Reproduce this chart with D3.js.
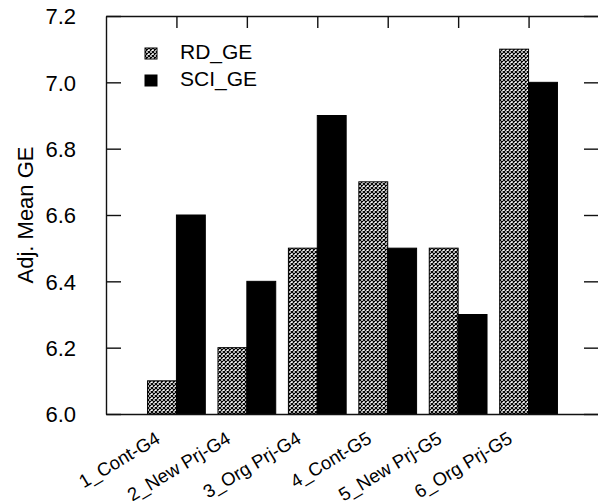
<!DOCTYPE html>
<html>
<head>
<meta charset="utf-8">
<script src="https://cdn.jsdelivr.net/npm/d3@7"></script>
<style>
  body { margin: 0; background: #fff; }
  text { font-family: "Liberation Sans", Arial, sans-serif; fill: #000; }
</style>
</head>
<body>
<script>
const categories = ['1_Cont-G4', '2_New Prj-G4', '3_Org Prj-G4', '4_Cont-G5', '5_New Prj-G5', '6_Org Prj-G5'];
const seriesNames = ['RD_GE', 'SCI_GE'];
const rdValues = [6.1, 6.2, 6.5, 6.7, 6.5, 7.1];
const sciValues = [6.6, 6.4, 6.9, 6.5, 6.3, 7.0];
const yTicks = [6.0, 6.2, 6.4, 6.6, 6.8, 7.0, 7.2];

function drawViz() {
  const W = 598, H = 501;
  const margin = {top: 16, bottom: 87, left: 106, right: -1};

  const svg = d3.select('body').append('svg')
    .attr('width', W)
    .attr('height', H);

  // hatch for the RD series
  const defs = svg.append('defs');
  const pat = defs.append('pattern')
    .attr('id', 'hatch')
    .attr('patternUnits', 'userSpaceOnUse')
    .attr('width', 4)
    .attr('height', 4);
  pat.append('rect').attr('width', 4).attr('height', 4).attr('fill', '#fff');
  pat.append('path')
    .attr('d', 'M0,0 L4,4 M4,0 L0,4')
    .attr('stroke', '#000')
    .attr('stroke-width', 1.2);

  const x = d3.scaleLinear().domain([0, 7]).range([margin.left, W - margin.right]);
  const y = d3.scaleLinear().domain([6.0, 7.2]).range([H - margin.bottom, margin.top]);
  const half = x(0.41) - x(0);
  const sub = d3.scaleBand().domain(seriesNames).range([-half, half]).padding(0);

  const data = categories.map((c, i) => ({cat: c, pos: i + 1, vals: [rdValues[i], sciValues[i]]}));

  // bars
  const g = svg.selectAll('g.grp')
    .data(data)
    .join('g')
    .attr('class', 'grp');

  g.selectAll('rect')
    .data(d => d.vals.map((v, k) => ({pos: d.pos, key: seriesNames[k], v})))
    .join('rect')
    .attr('x', d => x(d.pos) + sub(d.key))
    .attr('width', sub.bandwidth())
    .attr('y', d => y(d.v))
    .attr('height', d => y(6.0) - y(d.v))
    .attr('fill', d => d.key === 'RD_GE' ? 'url(#hatch)' : '#000')
    .attr('stroke', '#000')
    .attr('stroke-width', 1);

  // frame + axes, ticks pointing inward
  const axStyle = sel => {
    sel.select('.domain').attr('stroke', '#111').attr('stroke-width', 1.4);
    sel.selectAll('.tick line').attr('stroke', '#111').attr('stroke-width', 1.4);
  };

  const yL = svg.append('g')
    .attr('transform', `translate(${margin.left},0)`)
    .call(d3.axisLeft(y).tickValues(yTicks).tickFormat(d3.format('.1f')).tickSizeInner(-15).tickSizeOuter(0).tickPadding(30))
    .call(axStyle);
  yL.selectAll('.tick text')
    .style('font-size', '22px')
    .attr('dy', '0.35em');

  svg.append('g')
    .attr('transform', `translate(${W - margin.right},0)`)
    .call(d3.axisRight(y).tickValues(yTicks).tickSizeInner(-15).tickSizeOuter(0).tickFormat(''))
    .call(axStyle);

  svg.append('g')
    .attr('transform', `translate(0,${margin.top})`)
    .call(d3.axisTop(x).tickValues(d3.range(1, 7)).tickSizeInner(-12).tickSizeOuter(0).tickFormat(''))
    .call(axStyle);

  svg.append('g')
    .attr('transform', `translate(0,${y(6.0)})`)
    .call(d3.axisBottom(x).tickValues([]).tickSizeOuter(0))
    .call(axStyle);

  // category labels, rotated
  svg.append('g').selectAll('text')
    .data(data)
    .join('text')
    .attr('text-anchor', 'end')
    .attr('transform', d => `translate(${x(d.pos) - 15},${y(6.0) + 28}) rotate(-31)`)
    .style('font-size', '18.5px')
    .text(d => d.cat);

  // y title
  svg.append('text')
    .attr('text-anchor', 'middle')
    .attr('transform', `translate(33,${(y(6.0) + y(7.2)) / 2}) rotate(-90)`)
    .style('font-size', '22px')
    .text('Adj. Mean GE');

  // legend
  const leg = svg.append('g')
    .selectAll('g')
    .data(seriesNames)
    .join('g')
    .attr('transform', (d, i) => `translate(145,${48 + i * 27})`);
  leg.append('rect')
    .attr('width', 12)
    .attr('height', 11)
    .attr('fill', d => d === 'RD_GE' ? 'url(#hatch)' : '#000')
    .attr('stroke', '#000');
  leg.append('text')
    .attr('x', 35)
    .attr('y', 11)
    .style('font-size', '21px')
    .text(d => d);
}

drawViz();
</script>
</body>
</html>
